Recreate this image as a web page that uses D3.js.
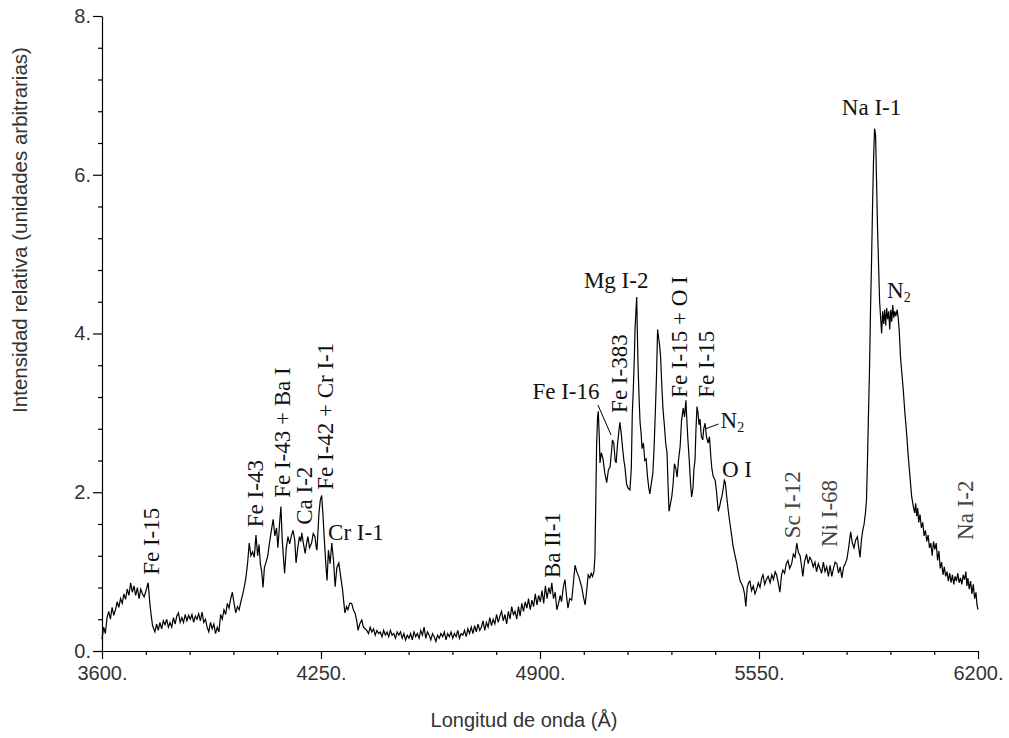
<!DOCTYPE html>
<html>
<head>
<meta charset="utf-8">
<script src="https://cdn.jsdelivr.net/npm/d3@7"></script>
<style>
  html, body { margin: 0; padding: 0; background: #fff; }
  svg { display: block; }
</style>
</head>
<body>
<svg id="chart" width="1009" height="738"></svg>
<script>
// ---------------- data ----------------
const xTickValues = [3600, 4250, 4900, 5550, 6200];
const yTickValues = [0, 2, 4, 6, 8];
const xTitle = "Longitud de onda (Å)";
const yTitle = "Intensidad relativa (unidades arbitrarias)";

// wavelength (Å)
const wavelength = [
3600,3605,3610,3615,3620,3625,3630,3635,3640,3645,3650,3655,3660,3665,3670,3675,3680,3685,3690,3695,
3700,3705,3710,3715,3720,3725,3730,3737,3742,3746,3750,3757,3762,3767,3772,3777,3782,3787,3792,3797,
3802,3807,3812,3817,3822,3827,3832,3837,3842,3847,3852,3857,3862,3867,3872,3877,3882,3887,3892,3897,
3902,3907,3912,3917,3922,3927,3932,3937,3942,3947,3952,3957,3962,3967,3972,3977,3982,3987,3992,3997,
4002,4007,4012,4017,4022,4027,4032,4037,4042,4047,4052,4057,4062,4066,4070,4074,4078,4082,4087,4092,
4097,4102,4108,4113,4118,4122,4127,4131,4135,4139,4142,4147,4152,4157,4162,4167,4172,4176,4181,4186,
4190,4193,4198,4203,4207,4211,4216,4222,4227,4232,4236,4238,4244,4248,4252,4256,4260,4265,4268,4272,
4277,4282,4287,4292,4297,4303,4308,4314,4318,4321,4326,4330,4335,4341,4346,4351,4356,4360,4365,4371,
4376,4381,4386,4391,4396,4401,4406,4411,4416,4421,4426,4431,4436,4441,4446,4451,4456,4461,4466,4471,
4476,4481,4486,4491,4496,4501,4506,4511,4516,4521,4526,4531,4536,4541,4546,4551,4556,4561,4566,4571,
4576,4581,4586,4591,4596,4601,4606,4611,4616,4621,4626,4631,4636,4641,4646,4651,4656,4661,4666,4671,
4676,4681,4686,4691,4696,4701,4706,4711,4716,4721,4726,4731,4736,4741,4746,4751,4756,4761,4766,4771,
4776,4781,4786,4791,4796,4801,4806,4811,4816,4821,4826,4831,4836,4841,4846,4851,4856,4861,4866,4871,
4876,4881,4886,4891,4896,4901,4906,4911,4916,4921,4926,4931,4935,4940,4945,4950,4955,4960,4964,4969,
4974,4979,4983,4988,4994,4999,5004,5009,5014,5019,5024,5029,5034,5039,5043,5048,5052,5056,5060,5063,
5066,5068,5071,5073,5076,5078,5082,5087,5092,5098,5103,5108,5112,5115,5119,5123,5126,5130,5133,5137,
5141,5145,5149,5152,5157,5162,5167,5171,5174,5177,5180,5182,5185,5187,5189,5191,5194,5197,5200,5203,
5207,5211,5215,5219,5223,5226,5230,5235,5239,5243,5246,5249,5252,5255,5258,5262,5265,5269,5273,5277,
5280,5283,5287,5291,5295,5299,5303,5307,5311,5316,5320,5325,5329,5333,5336,5339,5343,5347,5350,5354,
5357,5360,5363,5366,5369,5372,5375,5379,5383,5386,5390,5394,5399,5403,5407,5410,5414,5420,5424,5429,
5433,5437,5440,5444,5447,5450,5454,5459,5464,5469,5473,5478,5484,5489,5494,5499,5503,5507,5511,5515,
5519,5523,5528,5533,5538,5543,5548,5553,5558,5562,5567,5572,5577,5583,5588,5593,5598,5602,5607,5612,
5617,5621,5626,5631,5636,5641,5647,5652,5657,5662,5667,5672,5676,5680,5685,5691,5696,5701,5706,5711,
5716,5721,5726,5731,5736,5741,5746,5751,5756,5761,5766,5771,5776,5781,5786,5791,5796,5801,5806,5811,
5816,5822,5827,5832,5837,5842,5846,5850,5854,5858,5862,5866,5869,5872,5875,5878,5881,5884,5887,5890,
5893,5896,5899,5902,5905,5908,5911,5914,5917,5920,5923,5926,5929,5932,5935,5938,5941,5944,5947,5950,
5953,5956,5960,5963,5966,5970,5974,5978,5983,5988,5993,5998,6003,6008,6012,6015,6018,6021,6024,6028,
6032,6036,6040,6044,6048,6052,6056,6060,6064,6068,6072,6076,6080,6084,6088,6092,6096,6100,6104,6108,
6112,6116,6120,6124,6128,6132,6136,6140,6144,6148,6152,6156,6160,6164,6167,6170,6174,6178,6182,6186,
6190,6194,6197,6200
];

// relative intensity (arbitrary units)
const intensity = [
0.15,0.30,0.22,0.42,0.50,0.40,0.55,0.45,0.52,0.62,0.55,0.66,0.60,0.72,0.65,0.78,0.70,0.86,0.74,0.82,
0.70,0.80,0.66,0.78,0.72,0.68,0.75,0.86,0.60,0.45,0.32,0.24,0.34,0.26,0.36,0.28,0.38,0.33,0.40,0.30,
0.36,0.30,0.42,0.34,0.44,0.48,0.36,0.42,0.36,0.46,0.38,0.45,0.40,0.46,0.36,0.44,0.40,0.47,0.38,0.49,
0.36,0.40,0.30,0.24,0.36,0.28,0.34,0.22,0.30,0.24,0.46,0.40,0.52,0.46,0.60,0.54,0.66,0.74,0.60,0.48,
0.56,0.52,0.62,0.70,0.80,0.92,1.10,1.36,1.20,1.25,1.18,1.46,1.20,1.34,1.10,1.00,0.80,1.05,1.12,1.20,
1.36,1.50,1.66,1.45,1.55,1.30,1.60,1.82,1.40,1.15,0.98,1.30,1.44,1.35,1.45,1.52,1.40,1.11,1.30,1.44,
1.38,1.49,1.35,1.23,1.35,1.44,1.30,1.36,1.48,1.44,1.30,1.27,1.74,1.90,1.96,1.70,1.40,1.05,0.89,1.27,
1.10,1.36,1.15,0.81,1.05,1.11,0.95,0.77,0.60,0.48,0.56,0.52,0.60,0.60,0.52,0.48,0.38,0.26,0.34,0.39,
0.30,0.28,0.26,0.22,0.30,0.24,0.28,0.20,0.26,0.22,0.24,0.18,0.26,0.20,0.24,0.18,0.26,0.20,0.22,0.16,
0.24,0.20,0.24,0.16,0.22,0.14,0.20,0.16,0.22,0.14,0.24,0.18,0.22,0.16,0.26,0.20,0.30,0.16,0.24,0.20,
0.14,0.22,0.18,0.12,0.20,0.16,0.22,0.18,0.24,0.14,0.22,0.18,0.24,0.16,0.22,0.18,0.26,0.16,0.22,0.20,
0.26,0.18,0.28,0.22,0.30,0.22,0.32,0.24,0.34,0.26,0.30,0.38,0.26,0.36,0.30,0.42,0.32,0.40,0.34,0.46,
0.36,0.44,0.50,0.38,0.46,0.34,0.50,0.40,0.56,0.46,0.50,0.40,0.56,0.44,0.60,0.50,0.62,0.54,0.66,0.52,
0.64,0.56,0.72,0.58,0.70,0.62,0.76,0.60,0.82,0.66,0.80,0.72,0.86,0.66,0.74,0.52,0.60,0.70,0.62,0.80,
0.90,0.68,0.54,0.66,0.64,0.85,1.08,1.00,0.95,0.88,0.80,0.68,0.58,0.78,0.96,0.92,0.98,0.94,1.00,1.18,
2.00,2.60,2.95,3.02,2.70,2.37,2.50,2.42,2.25,2.12,2.28,2.32,2.50,2.66,2.62,2.40,2.37,2.60,2.72,2.88,
2.75,2.56,2.40,2.32,2.10,2.05,2.03,2.30,3.00,3.30,3.70,4.05,4.30,4.46,4.00,3.60,3.20,2.88,2.75,2.55,
2.62,2.40,2.42,2.20,2.05,1.98,2.10,2.24,2.60,3.10,3.50,4.05,3.95,3.85,3.70,3.30,3.05,2.85,2.62,2.50,
2.10,1.76,1.85,1.94,2.10,2.36,2.30,2.19,2.40,2.58,2.90,3.06,2.95,3.16,2.90,2.66,2.40,2.10,1.94,2.05,
2.30,2.40,2.80,3.08,3.00,2.85,2.92,2.70,2.66,2.80,2.87,2.70,2.62,2.70,2.45,2.30,2.20,2.15,2.00,1.76,
1.82,1.90,1.95,2.05,2.15,2.12,1.95,1.76,1.60,1.45,1.32,1.22,1.10,0.98,0.88,0.84,0.80,0.72,0.56,0.80,
0.86,0.88,0.76,0.82,0.72,0.78,0.86,0.80,0.92,0.96,0.84,0.90,0.94,0.86,0.96,0.90,1.00,0.96,0.86,0.74,
0.96,1.02,0.98,1.10,1.14,1.04,1.10,1.22,1.18,1.36,1.24,1.20,1.08,0.94,1.12,1.22,1.10,1.18,1.14,1.06,
1.12,1.00,1.10,1.04,0.98,1.12,1.00,1.06,0.94,1.08,0.94,1.04,1.12,1.10,0.98,1.06,0.92,1.06,1.10,1.16,
1.30,1.50,1.36,1.30,1.40,1.44,1.30,1.18,1.40,1.52,1.60,1.74,1.90,2.40,3.00,3.55,4.30,4.90,5.60,6.20,
6.58,6.50,5.90,5.30,4.85,4.40,4.20,4.00,4.28,4.12,4.30,4.10,4.32,4.18,4.28,4.05,4.30,4.15,4.36,4.20,
4.28,4.22,4.30,4.20,4.05,3.70,3.50,3.30,3.00,2.75,2.45,2.20,1.95,1.82,1.74,1.86,1.70,1.80,1.62,1.72,
1.55,1.62,1.45,1.52,1.38,1.46,1.30,1.36,1.20,1.38,1.28,1.36,1.14,1.26,1.04,1.12,0.96,1.06,0.94,1.00,
0.88,0.98,0.86,0.96,0.84,0.94,0.88,0.98,0.86,0.92,0.84,0.96,0.90,1.00,0.82,0.92,0.78,0.88,0.72,0.84,
0.66,0.74,0.58,0.52
];

// line annotations: text, wavelength, intensity of text anchor, orientation
const labelText  = ["Fe I-15","Fe I-43","Fe I-43 + Ba I","Ca I-2","Fe I-42 + Cr I-1","Cr I-1","Ba II-1","Fe I-16","Fe I-383","Mg I-2","Fe I-15 + O I","Fe I-15","N|2","O I","Sc I-12","Ni I-68","Na I-1","N|2","Na I-2"];
const labelWl    = [3748,4054,4134,4200,4262,4271,4936,4977,5137,5126,5315,5393,5436,5440,5648,5758,5884,5930,6164];
const labelVal   = [0.96,1.56,1.93,1.59,2.03,1.40,0.92,3.18,3.00,4.57,3.19,3.19,2.81,2.19,1.42,1.31,6.75,4.45,1.40];
const labelRot   = [true,true,true,true,true,false,true,false,true,false,true,true,false,false,true,true,false,false,true];
const labelAlign = ["start","start","start","start","start","start","start","middle","start","middle","start","start","start","start","start","start","middle","start","start"];
const labelGray  = [false,false,false,false,false,false,false,false,false,false,false,false,false,false,true,true,false,false,true];

// leader lines [wl1, v1, wl2, v2]
const leaders = [[5072, 3.10, 5111, 2.72], [5392, 2.80, 5430, 2.86]];

// ---------------- drawing ----------------
const svg = d3.select("#chart");
const x = d3.scaleLinear().domain([3600, 6200]).range([102, 978]);
const y = d3.scaleLinear().domain([0, 8]).range([651, 16]);

const axisColor = "#000";
const tickFont = "'Liberation Sans', Arial, sans-serif";

// y axis
const yMinor = d3.range(0, 8.001, 0.4).filter(v => Math.abs(v / 2 - Math.round(v / 2)) > 1e-6);
const gy = svg.append("g").attr("transform", "translate(102,0)");
gy.call(d3.axisLeft(y).tickValues(yTickValues).tickFormat(d => d + ".").tickSize(9).tickSizeOuter(0).tickPadding(2));
const gyMinor = svg.append("g").attr("transform", "translate(102,0)");
gyMinor.call(d3.axisLeft(y).tickValues(yMinor).tickFormat("").tickSize(4).tickSizeOuter(0));
gyMinor.select(".domain").remove();

// x axis
const xMinor = d3.range(3600, 6200.1, 130).filter(v => (v - 3600) % 650 !== 0);
const gx = svg.append("g").attr("transform", "translate(0,651)");
gx.call(d3.axisBottom(x).tickValues(xTickValues).tickFormat(d => d + ".").tickSize(8).tickSizeOuter(0).tickPadding(7));
const gxMinor = svg.append("g").attr("transform", "translate(0,651)");
gxMinor.call(d3.axisBottom(x).tickValues(xMinor).tickFormat("").tickSize(4).tickSizeOuter(0));
gxMinor.select(".domain").remove();

svg.selectAll(".domain, .tick line").attr("stroke", axisColor).attr("stroke-width", 1.2);
svg.selectAll(".tick text").attr("fill", "#333").style("font-family", tickFont).style("font-size", "20px");

// titles
svg.append("text")
  .attr("x", 524).attr("y", 727)
  .attr("text-anchor", "middle")
  .attr("fill", "#333")
  .style("font-family", tickFont).style("font-size", "20px")
  .text(xTitle);
svg.append("text")
  .attr("transform", "translate(27,230) rotate(-90)")
  .attr("text-anchor", "middle")
  .attr("fill", "#333")
  .style("font-family", tickFont).style("font-size", "20.5px")
  .text(yTitle);

// spectrum
const pts = wavelength.map((w, i) => [w, intensity[i]]);
const line = d3.line().x(d => x(d[0])).y(d => y(d[1]));
svg.append("path")
  .datum(pts)
  .attr("d", line)
  .attr("fill", "none")
  .attr("stroke", "#000")
  .attr("stroke-width", 1.2)
  .attr("stroke-linejoin", "miter");

// annotations
const labFont = "'Liberation Serif', 'Times New Roman', serif";
labelText.forEach((t, i) => {
  const px = x(labelWl[i]), py = y(labelVal[i]);
  const g = svg.append("text")
    .attr("text-anchor", labelAlign[i])
    .attr("fill", labelGray[i] ? "#444" : "#111")
    .style("font-family", labFont)
    .style("font-size", "23px");
  if (labelRot[i]) {
    g.attr("transform", `translate(${px},${py}) rotate(-90)`).attr("dy", "0.33em");
  } else {
    g.attr("x", px).attr("y", py);
  }
  const parts = t.split("|");
  g.append("tspan").text(parts[0]);
  if (parts.length > 1) {
    g.append("tspan").attr("dy", "0.3em").style("font-size", "14px").text(parts[1]);
  }
});

leaders.forEach(l => {
  svg.append("line")
    .attr("x1", x(l[0])).attr("y1", y(l[1]))
    .attr("x2", x(l[2])).attr("y2", y(l[3]))
    .attr("stroke", "#000").attr("stroke-width", 1);
});
</script>
</body>
</html>
